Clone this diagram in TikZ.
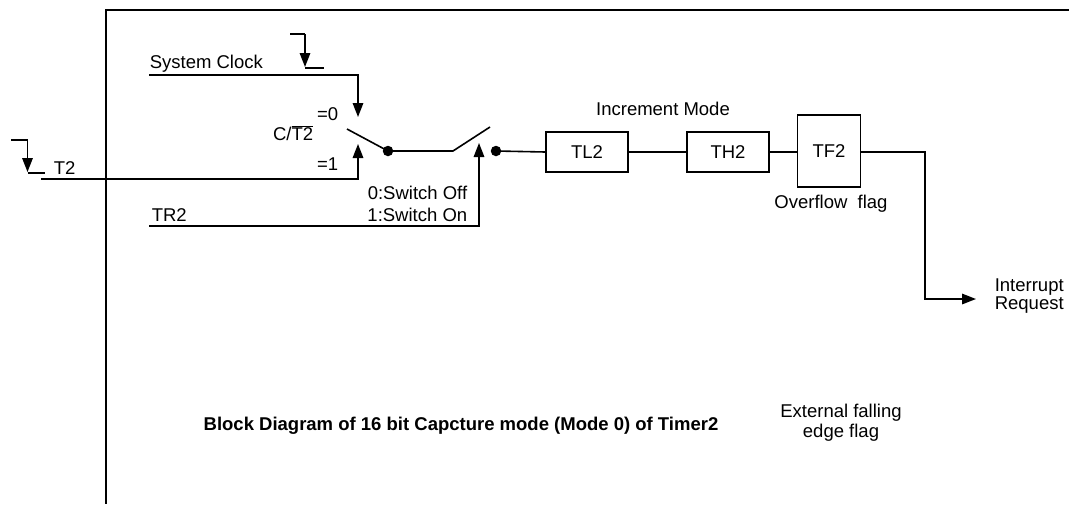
\documentclass[tikz,border=0pt]{standalone}
\usepackage{fontspec}
\setmainfont{Liberation Sans}
\usetikzlibrary{arrows.meta}
\begin{document}
\begin{tikzpicture}[x=1pt,y=-1pt,line width=1.6pt,
  every node/.style={font=\fontsize{18.5}{21}\selectfont,inner sep=0pt},
  arr/.style={-{Triangle[length=14pt,width=10.5pt]}},
  regbox/.style={draw,line width=1.5pt,minimum width=82pt,minimum height=40pt},
  dotc/.style={circle,fill=black,minimum size=10.5pt,inner sep=0pt},
  frameline/.style={line width=2.8pt}]
\useasboundingbox (0,0) rectangle (1069,504);
% frame
\coordinate (frTR) at (1069,10);
\coordinate (frTL) at (106,10);
\coordinate (frBL) at (106,504);
\draw[frameline] (frTR) -- (frTL) -- (frBL);

% falling edge symbol near System Clock
\coordinate (fe1a) at (290,34);
\coordinate (fe1b) at (305,34);
\coordinate (fe1c) at (305,67);
\coordinate (fe1d) at (305,68);
\coordinate (fe1e) at (324,68);
\draw (fe1a) -- (fe1b);
\draw[arr] (fe1b) -- (fe1c);
\draw (fe1d) -- (fe1e);

% falling edge symbol near T2
\coordinate (fe2a) at (11,140);
\coordinate (fe2b) at (27.5,140);
\coordinate (fe2c) at (27.5,172);
\coordinate (fe2d) at (27.5,173);
\coordinate (fe2e) at (45,173);
\draw (fe2a) -- (fe2b);
\draw[arr] (fe2b) -- (fe2c);
\draw (fe2d) -- (fe2e);

% labels
\node[anchor=west] (sysclk) at (149,64) {System Clock};
\node[anchor=west] (t2lbl) at (53,168) {T2};
\node[anchor=west] (tr2lbl) at (151,215) {TR2};
\node[anchor=east] (eq0) at (339,114) {=0};
\node[anchor=east] (eq1) at (339,164) {=1};
\node[anchor=east] (ct2) at (314,133) {C/$\overline{\mbox{T2}}$};
\node[anchor=east] (swoff) at (468,193) {0:Switch Off};
\node[anchor=east] (swon) at (468,215) {1:Switch On};

% System clock line
\coordinate (sc0) at (149,75);
\coordinate (sc1) at (358,75);
\coordinate (sc2) at (358,117);
\draw[arr] (sc0) -- (sc1) -- (sc2);

% T2 line
\coordinate (t20) at (41,179);
\coordinate (t21) at (358,179);
\coordinate (t22) at (358,144);
\draw[arr] (t20) -- (t21) -- (t22);

% TR2 line
\coordinate (tr0) at (149,226);
\coordinate (tr1) at (479,226);
\coordinate (tr2) at (479,143);
\draw[arr] (tr0) -- (tr1) -- (tr2);

% switches
\node[dotc] (dot1) at (388,151) {};
\node[dotc] (dot2) at (496,151) {};
\coordinate (sw1) at (347,129);
\coordinate (sw2a) at (453,151);
\coordinate (sw2b) at (490,127);
\draw (sw1) -- (dot1.center);
\draw (dot1.center) -- (sw2a) -- (sw2b);

% registers
\node[regbox] (tl2) at (587,152) {TL2};
\node[regbox] (th2) at (728,152) {TH2};
\node[regbox,minimum width=63pt,minimum height=72pt] (tf2) at (829,151) {TF2};
\draw (dot2.center) -- (tl2.west);
\draw (tl2.east) -- (th2.west);
\draw (th2.east) -- (tf2.west |- th2.east);

\node (incmode) at (663,109) {Increment Mode};
\node (ovf) at (831,204) {Overflow\ \ flag};

% interrupt
\coordinate (ir0) at (925,152);
\coordinate (ir1) at (925,299);
\coordinate (ir2) at (976,299);
\draw[arr] (tf2.east |- ir0) -- (ir0) -- (ir1) -- (ir2);
\node[anchor=west,align=left,font=\fontsize{18.5}{18.5}\selectfont] (irq) at (994,296) {Interrupt\\Request};

% captions
\node[font=\bfseries\fontsize{18.5}{21}\selectfont] (title) at (461,426) {Block Diagram of 16 bit Capcture mode (Mode 0) of Timer2};
\node[align=center,font=\fontsize{18.5}{20}\selectfont] (ext) at (841,423) {External falling\\edge flag};
\end{tikzpicture}
\end{document}
